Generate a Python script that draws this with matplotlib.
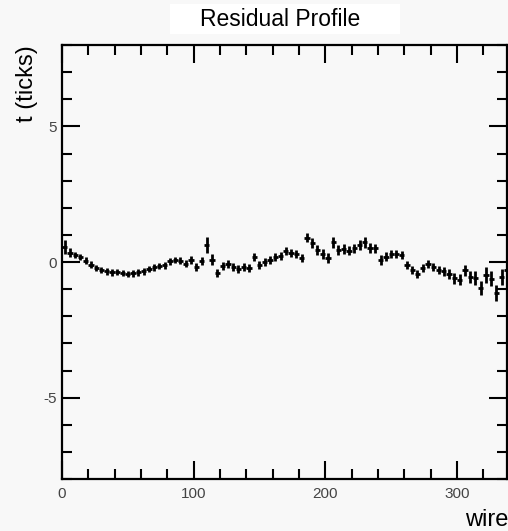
import numpy as np
import matplotlib.pyplot as plt
from matplotlib.patches import Rectangle
from matplotlib.ticker import MultipleLocator

plt.rcParams['font.family'] = ['Liberation Sans', 'DejaVu Sans']
plt.rcParams['axes.unicode_minus'] = False

# wire bin centres (4-wire bins) and profile mean / error
wire = np.arange(2, 340, 4)
t_mean = [0.55, 0.35, 0.25, 0.18, 0.05, -0.10, -0.22, -0.30, -0.35, -0.38,
          -0.36, -0.40, -0.45, -0.42, -0.38, -0.35, -0.25, -0.20, -0.15, -0.12,
          0.02, 0.08, 0.05, -0.06, 0.08, -0.20, 0.05, 0.62, 0.08, -0.40,
          -0.15, -0.08, -0.20, -0.25, -0.20, -0.22, 0.20, -0.12, 0.00, 0.08,
          0.20, 0.22, 0.42, 0.32, 0.28, 0.15, 0.90, 0.70, 0.45, 0.30,
          0.15, 0.72, 0.45, 0.48, 0.42, 0.50, 0.62, 0.72, 0.52, 0.50,
          0.08, 0.20, 0.28, 0.30, 0.25, -0.10, -0.30, -0.45, -0.22, -0.08,
          -0.18, -0.28, -0.35, -0.45, -0.60, -0.65, -0.30, -0.55, -0.60, -0.95,
          -0.48, -0.62, -1.15, -0.55, -0.30]
t_err = [0.25, 0.15, 0.12, 0.12, 0.12, 0.12, 0.12, 0.12, 0.12, 0.12,
         0.12, 0.12, 0.12, 0.12, 0.12, 0.12, 0.12, 0.12, 0.12, 0.12,
         0.12, 0.12, 0.12, 0.12, 0.15, 0.15, 0.15, 0.30, 0.20, 0.15,
         0.15, 0.15, 0.15, 0.15, 0.15, 0.15, 0.15, 0.15, 0.15, 0.15,
         0.15, 0.15, 0.15, 0.15, 0.15, 0.15, 0.18, 0.18, 0.18, 0.18,
         0.18, 0.20, 0.18, 0.18, 0.18, 0.18, 0.18, 0.22, 0.18, 0.18,
         0.18, 0.18, 0.15, 0.15, 0.15, 0.15, 0.15, 0.15, 0.15, 0.15,
         0.15, 0.15, 0.18, 0.18, 0.20, 0.20, 0.20, 0.22, 0.25, 0.25,
         0.28, 0.28, 0.30, 0.30, 0.30]
bin_half = 2.0

bg = '#f8f8f8'
fig = plt.figure(figsize=(5.08, 5.31), dpi=100, facecolor=bg)
ax = fig.add_axes([62/508, 52/531, 445/508, 434/531], facecolor=bg)

ax.errorbar(wire, t_mean, yerr=t_err, xerr=bin_half, fmt='none',
            ecolor='black', elinewidth=2.0, capsize=0)

ax.set_xlim(0, 338)
ax.set_ylim(-8, 8)
ax.xaxis.set_major_locator(MultipleLocator(100))
ax.xaxis.set_minor_locator(MultipleLocator(20))
ax.yaxis.set_major_locator(MultipleLocator(5))
ax.yaxis.set_minor_locator(MultipleLocator(1))
ax.tick_params(which='both', direction='in', top=True, right=True,
               width=1.5, labelsize=11, labelcolor='#444444')
ax.tick_params(which='major', length=13)
ax.tick_params(which='minor', length=7)
ax.tick_params(axis='x', pad=6)
ax.tick_params(axis='y', pad=4)
for s in ax.spines.values():
    s.set_linewidth(1.6)

# white title box
fig.patches.append(Rectangle((170/508, 1 - 34/531), 230/508, 30/531,
                             transform=fig.transFigure, facecolor='white',
                             edgecolor='none'))
fig.text(280/508, 1 - 20/531, 'Residual Profile', ha='center', va='center',
         fontsize=16.5)
fig.text(27/508, 1 - 45/531, 't (ticks)', rotation=90, ha='center', va='top',
         fontsize=17)
fig.text(1.0, 1 - 526/531, 'wire', ha='right', va='baseline', fontsize=17)

fig.savefig('out.png', dpi=100, facecolor=bg)
